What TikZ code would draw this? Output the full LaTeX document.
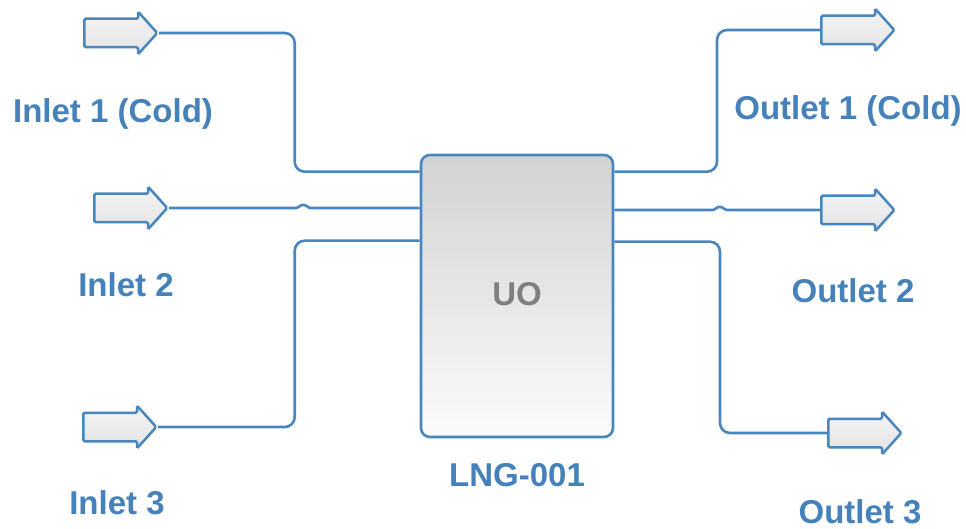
\documentclass[tikz,border=0pt]{standalone}
\usepackage{fontspec}
\setmainfont{Liberation Sans}
\usepackage{xcolor}
\usepackage{tikz}
\usetikzlibrary{shapes.arrows, positioning, calc}

\definecolor{pipeblue}{HTML}{4A86BE}
\definecolor{labelblue}{HTML}{4581BA}
\definecolor{uogray}{HTML}{7F7F7F}

\begin{document}
\begin{tikzpicture}[x=1pt, y=-1pt,
        % Define styles for the process flow elements
        unitop/.style={rectangle, draw=pipeblue, line width=2.6pt, rounded corners=9pt,
            top color=gray!35, bottom color=gray!3, minimum width=192pt, minimum height=282pt,
            font=\bfseries\fontsize{33}{40}\selectfont, text=uogray},
        flowarrow/.style={single arrow, draw=pipeblue, line width=2.5pt, rounded corners=1.5pt,
            top color=gray!8, bottom color=gray!22, inner xsep=0pt, inner ysep=13pt,
            minimum height=73pt, single arrow head extend=7pt, single arrow tip angle=96,
            anchor=tail},
        pipe/.style={draw=pipeblue, line width=2.6pt, rounded corners=10pt},
        streamlabel/.style={font=\bfseries\fontsize{33}{40}\selectfont, text=labelblue,
            inner sep=0pt, anchor=base}
    ]
        \useasboundingbox (0,0) rectangle (966,529);

        % --------------------------------------------------------
        % Unit operation
        % --------------------------------------------------------
        \node[unitop] (uo) at (517,296) {\raisebox{4pt}{UO}};
        \node[streamlabel, anchor=north, below=25pt of uo] (uo-tag) {LNG-001};

        % --------------------------------------------------------
        % Inlet streams
        % --------------------------------------------------------
        \node[flowarrow] (in1) at (83,33) {};
        \node[flowarrow] (in2) at (93,208) {};
        \node[flowarrow] (in3) at (82,427) {};

        \node[streamlabel] (in1-lbl) at (113,123) {Inlet 1 (Cold)};
        \node[streamlabel] (in2-lbl) at (126,297) {Inlet 2};
        \node[streamlabel] (in3-lbl) at (117,514) {Inlet 3};

        % ports on the unit
        \coordinate (uo-in1) at ($(uo.north west)+(0,18)$);
        \coordinate (uo-in2) at (uo.west |- in2.tip);
        \coordinate (uo-in3) at ($(uo.north west)+(0,87)$);

        \draw[pipe] (in1.tip) -| ($(uo-in1)+(-125,0)$) -- (uo-in1);
        \draw[pipe, rounded corners=1.5pt] (in2.tip) -- ($(uo-in2)+(-122,0)$)
            -- ++(3,-3) -- ++(5,0) -- ++(3,3) -- (uo-in2);
        \draw[pipe] (in3.tip) -| ($(uo-in3)+(-125,0)$) -- (uo-in3);

        % --------------------------------------------------------
        % Outlet streams
        % --------------------------------------------------------
        \node[flowarrow] (out1) at (820,30) {};
        \node[flowarrow] (out2) at (820,210) {};
        \node[flowarrow] (out3) at (827,433) {};

        \node[streamlabel] (out1-lbl) at (848,120) {Outlet 1 (Cold)};
        \node[streamlabel] (out2-lbl) at (853,302) {Outlet 2};
        \node[streamlabel] (out3-lbl) at (860,523) {Outlet 3};

        % ports on the unit
        \coordinate (uo-out1) at ($(uo.north east)+(0,18)$);
        \coordinate (uo-out2) at (uo.east |- out2.tail);
        \coordinate (uo-out3) at ($(uo.north east)+(0,88)$);

        \draw[pipe] (uo-out1) -| ($(out1.tail)+(-103,0)$) -- (out1.tail);
        \draw[pipe, rounded corners=1.5pt] (uo-out2) -- ($(uo-out2)+(100,0)$)
            -- ++(3,-3) -- ++(5,0) -- ++(3,3) -- (out2.tail);
        \draw[pipe] (uo-out3) -| ($(out3.tail)+(-107,0)$) -- (out3.tail);

    \end{tikzpicture}
\end{document}
